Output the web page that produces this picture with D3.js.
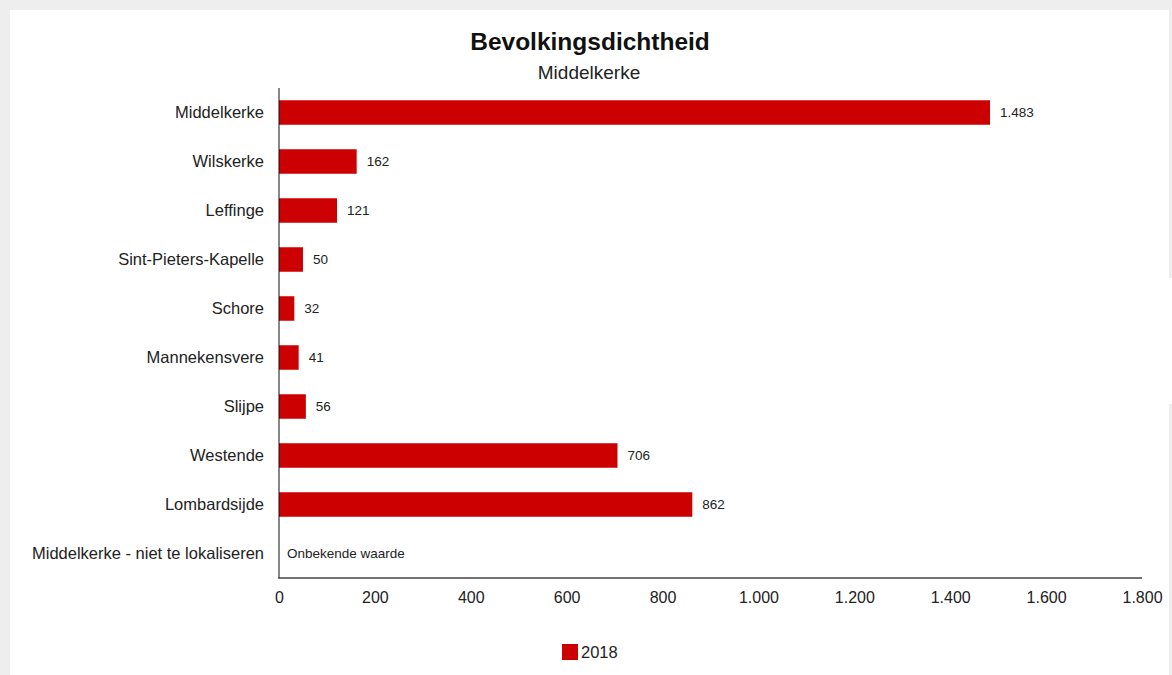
<!DOCTYPE html>
<html>
<head>
<meta charset="utf-8">
<script src="https://cdn.jsdelivr.net/npm/d3@7"></script>
<style>
  html, body { margin: 0; padding: 0; background: #eeeeee; overflow: hidden; }
  #frame { position: absolute; left: 10px; top: 10px; width: 1159px; height: 700px; background: #fff; }
  #gap { position: absolute; left: 1169px; top: 278px; width: 3px; height: 126px; background: #fff; }
  svg { position: absolute; left: 0; top: 0; }
  text { font-family: "Liberation Sans", Arial, sans-serif; }
</style>
</head>
<body>
<div id="frame"></div>
<div id="gap"></div>
<div id="chart"></div>
<script>
// chart data
let categories = ['Middelkerke', 'Wilskerke', 'Leffinge', 'Sint-Pieters-Kapelle', 'Schore',
    'Mannekensvere', 'Slijpe', 'Westende', 'Lombardsijde', 'Middelkerke - niet te lokaliseren'];
let values2018 = [1483, 162, 121, 50, 32, 41, 56, 706, 862, null];
let x_ticks = [0, 200, 400, 600, 800, 1000, 1200, 1400, 1600, 1800];
let series_name = '2018';
let title = 'Bevolkingsdichtheid';
let subtitle = 'Middelkerke';
let missing_label = 'Onbekende waarde';

let width = 1172,
    height = 675;

let svg = d3.select('#chart').append('svg')
    .attr('width', width)
    .attr('height', height);

// dutch number format: 1.483
let nl = d3.formatLocale({decimal: ',', thousands: '.', grouping: [3], currency: ['€', '']});
let fmt = nl.format(',d');

let m_left = 279, m_right = 1142, m_top = 88, m_bottom = 578;

let x = d3.scaleLinear()
    .domain([0, 1800])
    .range([m_left, m_right]);

let y = d3.scaleBand()
    .domain(categories)
    .range([m_top, m_bottom])
    .paddingInner(0.5)
    .paddingOuter(0.25);

//----------------------------------------
// titles
svg.append('text')
    .attr('x', 590).attr('y', 50)
    .attr('text-anchor', 'middle')
    .style('font-size', '24.5px').style('font-weight', 'bold').style('fill', '#111')
    .text(title);

svg.append('text')
    .attr('x', 589).attr('y', 79)
    .attr('text-anchor', 'middle')
    .style('font-size', '19px').style('fill', '#222')
    .text(subtitle);

//----------------------------------------
// bars
let rows = categories.map(function(c, i) { return {cat: c, val: values2018[i]}; });

svg.selectAll('rect.bar')
    .data(rows.filter(function(d) { return d.val != null; }))
    .enter()
    .append('rect')
    .attr('class', 'bar')
    .attr('x', x(0))
    .attr('y', function(d) { return y(d.cat); })
    .attr('width', function(d) { return x(d.val) - x(0); })
    .attr('height', y.bandwidth())
    .style('fill', '#cc0000');

svg.selectAll('text.val')
    .data(rows)
    .enter()
    .append('text')
    .attr('class', 'val')
    .attr('x', function(d) { return d.val != null ? x(d.val) + 10 : x(0) + 8; })
    .attr('y', function(d) { return y(d.cat) + y.bandwidth() / 2; })
    .attr('dy', '0.35em')
    .style('font-size', '13.5px').style('fill', '#222')
    .text(function(d) { return d.val != null ? fmt(d.val) : missing_label; });

//----------------------------------------
// axes
let y_axis = svg.append('g')
    .attr('transform', 'translate(' + m_left + ',0)')
    .call(d3.axisLeft(y).tickSize(0).tickPadding(15));
y_axis.select('.domain').attr('d', 'M0,' + m_top + 'V' + m_bottom).style('stroke', '#111');
y_axis.selectAll('text').style('font-size', '16.5px').style('fill', '#222')
    .style('font-family', '"Liberation Sans", Arial, sans-serif');

let x_axis = svg.append('g')
    .attr('transform', 'translate(0,' + m_bottom + ')')
    .call(d3.axisBottom(x).tickValues(x_ticks).tickSize(0).tickPadding(14)
        .tickFormat(function(d) { return fmt(d); }));
x_axis.select('.domain').attr('d', 'M' + (m_left - 1) + ',0H' + m_right).style('stroke', '#444').style('stroke-width', 1.5);
x_axis.selectAll('text').style('font-size', '16px').style('fill', '#222')
    .style('font-family', '"Liberation Sans", Arial, sans-serif');

//----------------------------------------
// legend
svg.append('rect')
    .attr('x', 562).attr('y', 644)
    .attr('width', 16).attr('height', 16)
    .style('fill', '#cc0000');
svg.append('text')
    .attr('x', 581).attr('y', 652)
    .attr('dy', '0.35em')
    .style('font-size', '16.5px').style('fill', '#222')
    .text(series_name);
</script>
</body>
</html>
